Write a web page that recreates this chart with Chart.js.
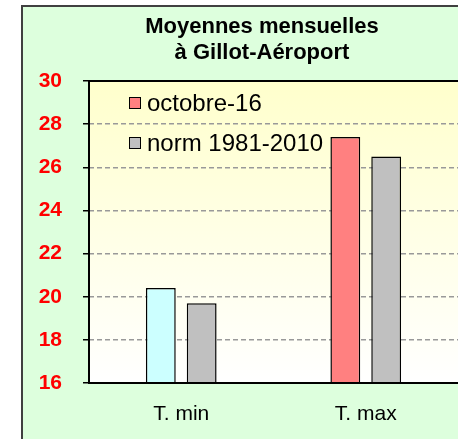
<!DOCTYPE html>
<html>
<head>
<meta charset="utf-8">
<script src="https://cdn.jsdelivr.net/npm/chart.js@4/dist/chart.umd.min.js"></script>
<style>
  html, body { margin: 0; padding: 0; background: #ffffff; }
  #frame { position: relative; width: 458px; height: 439px; overflow: hidden; }
  #box {
    position: absolute; left: 21px; top: 5px;
    width: 478px; height: 445px;
    border: 2px solid #404040;
    background: #ddffdd;
  }
  canvas { display: block; }
</style>
</head>
<body>
<div id="frame">
  <div id="box"><canvas id="chart" width="435" height="445"></canvas></div>
</div>
<script>
// Données : moyennes mensuelles (°C)
const categories = ["T. min", "T. max"];
const octobre16 = [20.4, 27.4];
const normales = [19.7, 26.5];
const yTicks = [16, 18, 20, 22, 24, 26, 28, 30];

const titleLines = ["Moyennes mensuelles", "à Gillot-Aéroport"];
const seriesLabels = ["octobre-16", "norm 1981-2010"];
const octobreColors = ["#ccffff", "#ff8080"];
const legendColors = ["#ff8080", "#c0c0c0"];

const fontFamily = "Arial, 'Liberation Sans', sans-serif";

// fond dégradé de la zone de tracé + cadre (haut, gauche, bas)
const plotArea = {
  id: "plotArea",
  beforeDraw(chart) {
    const { ctx, chartArea: a } = chart;
    const g = ctx.createLinearGradient(0, a.top, 0, a.bottom);
    g.addColorStop(0, "#ffffcc");
    g.addColorStop(1, "#ffffff");
    ctx.save();
    ctx.fillStyle = g;
    ctx.fillRect(a.left, a.top, a.right - a.left, a.bottom - a.top);
    ctx.restore();
  },
  afterDatasetsDraw(chart) {
    const { ctx, chartArea: a } = chart;
    ctx.save();
    ctx.strokeStyle = "#000000";
    ctx.lineWidth = 2;
    ctx.beginPath();
    ctx.moveTo(a.right, a.top);
    ctx.lineTo(a.left, a.top);
    ctx.lineTo(a.left, a.bottom);
    ctx.lineTo(a.right, a.bottom);
    ctx.stroke();
    ctx.restore();
  },
};

// titre centré sur toute la zone du graphique (plus large que la fenêtre)
const chartTitle = {
  id: "chartTitle",
  afterDraw(chart) {
    const { ctx } = chart;
    ctx.save();
    ctx.font = "bold 22px " + fontFamily;
    ctx.fillStyle = "#000000";
    ctx.textAlign = "center";
    ctx.textBaseline = "middle";
    titleLines.forEach((t, i) => ctx.fillText(t, 239, 20 + i * 26));
    ctx.restore();
  },
};

// légende dans la zone de tracé
const innerLegend = {
  id: "innerLegend",
  afterDraw(chart) {
    const { ctx, chartArea: a } = chart;
    ctx.save();
    ctx.font = "24px " + fontFamily;
    ctx.textBaseline = "middle";
    chart.data.datasets.forEach((ds, i) => {
      const y = a.top + 22 + i * 40;
      const x = a.left + 40;
      ctx.fillStyle = legendColors[i];
      ctx.fillRect(x, y - 6, 12, 12);
      ctx.strokeStyle = "#000000";
      ctx.lineWidth = 1;
      ctx.strokeRect(x + 0.5, y - 5.5, 11, 11);
      ctx.fillStyle = "#000000";
      ctx.fillText(ds.label, x + 18, y + 1);
    });
    ctx.restore();
  },
};

new Chart(document.getElementById("chart"), {
  type: "bar",
  data: {
    labels: categories,
    datasets: [
      {
        label: seriesLabels[0],
        data: octobre16,
        backgroundColor: octobreColors,
        borderColor: "#000000",
        borderWidth: 1.5,
      },
      {
        label: seriesLabels[1],
        data: normales,
        backgroundColor: "#c0c0c0",
        borderColor: "#000000",
        borderWidth: 1.5,
      },
    ],
  },
  options: {
    responsive: false,
    animation: false,
    layout: { padding: { left: 0, right: 0, top: 74, bottom: 0 } },
    datasets: {
      bar: { categoryPercentage: 0.443, barPercentage: 0.73 },
    },
    plugins: {
      legend: { display: false },
      tooltip: { enabled: false },
      title: { display: false },
    },
    scales: {
      x: {
        grid: { display: false },
        border: { display: false },
        ticks: {
          color: "#000000",
          font: { family: fontFamily, size: 21 },
          padding: 11,
        },
        afterFit(scale) {
          scale.height = 69;
        },
      },
      y: {
        min: 16,
        max: 30,
        afterBuildTicks(scale) {
          scale.ticks = yTicks.map((v) => ({ value: v }));
        },
        grid: {
          color: (c) =>
            c.tick && (c.tick.value === 16 || c.tick.value === 30)
              ? "rgba(0,0,0,0)"
              : "#999999",
          lineWidth: 1.5,
          tickColor: "#000000",
          tickLength: 6,
          tickWidth: 1.5,
          tickBorderDash: [],
        },
        border: { display: false, dash: [5, 3] },
        ticks: {
          color: "#ff0000",
          font: { family: fontFamily, size: 21, weight: "bold" },
          padding: 21,
        },
        afterFit(scale) {
          scale.width = 66;
        },
      },
    },
  },
  plugins: [plotArea, chartTitle, innerLegend],
});
</script>
</body>
</html>
